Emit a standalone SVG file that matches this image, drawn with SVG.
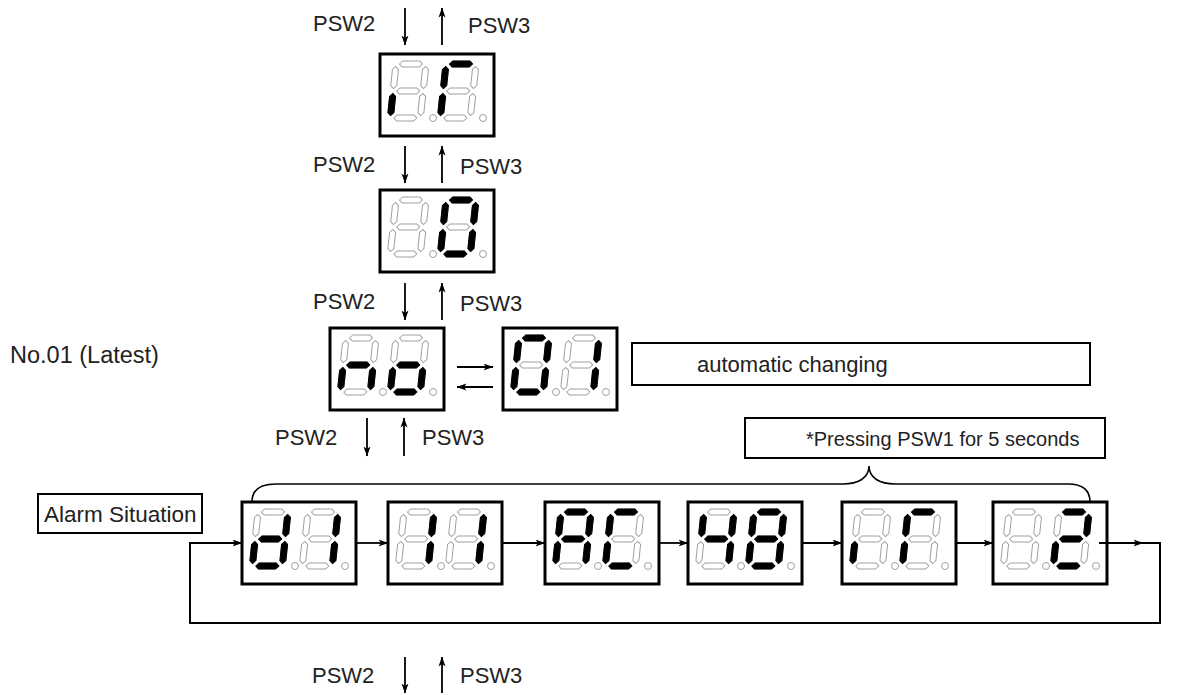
<svg xmlns="http://www.w3.org/2000/svg" xmlns:xlink="http://www.w3.org/1999/xlink" width="1177" height="695" viewBox="0 0 1177 695">
<style>
text{font-family:"Liberation Sans",Arial,sans-serif;font-size:22px;fill:#222}
.box{fill:#fff;stroke:#000;stroke-width:3}
.lbl{fill:#fff;stroke:#000;stroke-width:2}
.on{fill:#000;stroke:#000;stroke-width:1}
.dp{fill:#fff;stroke:#a0a0a0;stroke-width:1}
.ln{fill:none;stroke:#000;stroke-width:2}
.ar{fill:none;stroke:#000;stroke-width:1.8;marker-end:url(#ah)}
</style>
<defs>
<marker id="ah" viewBox="0 0 10 8" refX="9.5" refY="4" markerWidth="10" markerHeight="8" markerUnits="userSpaceOnUse" orient="auto">
<path d="M0,0.5 L10,4 L0,7.5 L2.5,4 Z" fill="#000"/>
</marker>
<path id="sa" d="M3.5,0 L6.5,-3 L23.5,-3 L26.5,0 L23.5,3 L6.5,3 Z"/>
<path id="sg" d="M3.5,27 L6.5,24 L23.5,24 L26.5,27 L23.5,30 L6.5,30 Z"/>
<path id="sd" d="M3.5,54 L6.5,51 L23.5,51 L26.5,54 L23.5,57 L6.5,57 Z"/>
<path id="sf" d="M0,2.5 L3,5.5 L3,21.5 L0,24.5 L-3,21.5 L-3,5.5 Z"/>
<path id="se" d="M0,29.5 L3,32.5 L3,48.5 L0,51.5 L-3,48.5 L-3,32.5 Z"/>
<path id="sb" d="M30,2.5 L33,5.5 L33,21.5 L30,24.5 L27,21.5 L27,5.5 Z"/>
<path id="sc" d="M30,29.5 L33,32.5 L33,48.5 L30,51.5 L27,48.5 L27,32.5 Z"/>
<g id="dim" fill="#fff" stroke="#a0a0a0" stroke-width="1">
<use href="#sa"/><use href="#sb"/><use href="#sc"/><use href="#sd"/><use href="#se"/><use href="#sf"/><use href="#sg"/>
</g>
<g id="frame">
<rect class="box" x="0" y="0" width="114" height="82"/>
<circle class="dp" cx="53" cy="64" r="3.5"/>
<circle class="dp" cx="103" cy="64" r="3.5"/>
</g>
</defs>

<g id="labels">
<text x="313" y="31">PSW2</text><text x="468" y="33">PSW3</text>
<text x="313" y="172">PSW2</text><text x="460" y="174">PSW3</text>
<text x="313" y="309">PSW2</text><text x="460" y="311">PSW3</text>
<text x="275" y="445">PSW2</text><text x="422" y="445">PSW3</text>
<text x="312" y="683">PSW2</text><text x="460" y="683">PSW3</text>
<text x="10" y="363" style="font-size:23.5px">No.01 (Latest)</text>
</g>

<g id="alarm-situation">
<rect class="lbl" x="38" y="494" width="164" height="39"/>
<text x="44" y="522" style="font-size:22.5px">Alarm Situation</text>
</g>
<g id="automatic-changing">
<rect class="lbl" x="632" y="343" width="458" height="42"/>
<text x="697" y="372">automatic changing</text>
</g>
<g id="pressing-psw1">
<rect class="lbl" x="745" y="418" width="360" height="40"/>
<text x="806" y="446" style="font-size:20px">*Pressing PSW1 for 5 seconds</text>
</g>

<g id="connectors">
<path class="ar" d="M405,8 V45"/><path class="ar" d="M442,45 V8"/>
<path class="ar" d="M405,146 V183"/><path class="ar" d="M442,183 V146"/>
<path class="ar" d="M405,283 V320"/><path class="ar" d="M442,320 V283"/>
<path class="ar" d="M367,418 V456"/><path class="ar" d="M404,456 V418"/>
<path class="ar" d="M405,657 V693"/><path class="ar" d="M442,693 V657"/>
<path class="ar" d="M457,367 H493"/><path class="ar" d="M493,387 H457"/>
<path class="ar" d="M356,543 H388"/>
<path class="ar" d="M502,543 H545"/>
<path class="ar" d="M659,543 H688"/>
<path class="ar" d="M802,543 H842"/>
<path class="ar" d="M956,543 H993"/>
<path class="ar" d="M1099,543 H1143"/>
<path class="ln" d="M1140,543 H1160 V623 H190 V543"/>
<path class="ar" d="M189,543 H242"/>
<path class="ln" style="stroke-width:1.6" d="M252,502 C252,490 260,484 276,484 L843,484 C858,484 869,478 869,466 C869,478 880,484 895,484 L1068,484 C1082,484 1090,490 1090,502"/>
</g>

<g id="disp-rF-top" transform="translate(380,54)">
<use href="#frame"/>
<g transform="translate(16,10) skewX(-6)"><use href="#dim"/><use href="#se" class="on"/></g>
<g transform="translate(66,10) skewX(-6)"><use href="#dim"/><use href="#sa" class="on"/><use href="#se" class="on"/><use href="#sf" class="on"/></g>
</g>

<g id="disp-0" transform="translate(380,190)">
<use href="#frame"/>
<g transform="translate(16,10) skewX(-6)"><use href="#dim"/></g>
<g transform="translate(66,10) skewX(-6)"><use href="#dim"/><use href="#sa" class="on"/><use href="#sb" class="on"/><use href="#sc" class="on"/><use href="#sd" class="on"/><use href="#se" class="on"/><use href="#sf" class="on"/></g>
</g>

<g id="disp-no" transform="translate(330,328)">
<use href="#frame"/>
<g transform="translate(16,10) skewX(-6)"><use href="#dim"/><use href="#sc" class="on"/><use href="#se" class="on"/><use href="#sg" class="on"/></g>
<g transform="translate(66,10) skewX(-6)"><use href="#dim"/><use href="#sc" class="on"/><use href="#sd" class="on"/><use href="#se" class="on"/><use href="#sg" class="on"/></g>
</g>

<g id="disp-01" transform="translate(503,328)">
<use href="#frame"/>
<g transform="translate(16,10) skewX(-6)"><use href="#dim"/><use href="#sa" class="on"/><use href="#sb" class="on"/><use href="#sc" class="on"/><use href="#sd" class="on"/><use href="#se" class="on"/><use href="#sf" class="on"/></g>
<g transform="translate(66,10) skewX(-6)"><use href="#dim"/><use href="#sb" class="on"/><use href="#sc" class="on"/></g>
</g>

<g id="disp-d1" transform="translate(242,502)">
<use href="#frame"/>
<g transform="translate(16,10) skewX(-6)"><use href="#dim"/><use href="#sb" class="on"/><use href="#sc" class="on"/><use href="#sd" class="on"/><use href="#se" class="on"/><use href="#sg" class="on"/></g>
<g transform="translate(66,10) skewX(-6)"><use href="#dim"/><use href="#sb" class="on"/><use href="#sc" class="on"/></g>
</g>

<g id="disp-11" transform="translate(388,502)">
<use href="#frame"/>
<g transform="translate(16,10) skewX(-6)"><use href="#dim"/><use href="#sb" class="on"/><use href="#sc" class="on"/></g>
<g transform="translate(66,10) skewX(-6)"><use href="#dim"/><use href="#sb" class="on"/><use href="#sc" class="on"/></g>
</g>

<g id="disp-AC" transform="translate(545,502)">
<use href="#frame"/>
<g transform="translate(16,10) skewX(-6)"><use href="#dim"/><use href="#sa" class="on"/><use href="#sb" class="on"/><use href="#sc" class="on"/><use href="#se" class="on"/><use href="#sf" class="on"/><use href="#sg" class="on"/></g>
<g transform="translate(66,10) skewX(-6)"><use href="#dim"/><use href="#sa" class="on"/><use href="#sd" class="on"/><use href="#se" class="on"/><use href="#sf" class="on"/></g>
</g>

<g id="disp-48" transform="translate(688,502)">
<use href="#frame"/>
<g transform="translate(16,10) skewX(-6)"><use href="#dim"/><use href="#sb" class="on"/><use href="#sc" class="on"/><use href="#sf" class="on"/><use href="#sg" class="on"/></g>
<g transform="translate(66,10) skewX(-6)"><use href="#dim"/><use href="#sa" class="on"/><use href="#sb" class="on"/><use href="#sc" class="on"/><use href="#sd" class="on"/><use href="#se" class="on"/><use href="#sf" class="on"/><use href="#sg" class="on"/></g>
</g>

<g id="disp-rF" transform="translate(842,502)">
<use href="#frame"/>
<g transform="translate(16,10) skewX(-6)"><use href="#dim"/><use href="#se" class="on"/></g>
<g transform="translate(66,10) skewX(-6)"><use href="#dim"/><use href="#sa" class="on"/><use href="#se" class="on"/><use href="#sf" class="on"/></g>
</g>

<g id="disp-2" transform="translate(993,502)">
<use href="#frame"/>
<g transform="translate(16,10) skewX(-6)"><use href="#dim"/></g>
<g transform="translate(66,10) skewX(-6)"><use href="#dim"/><use href="#sa" class="on"/><use href="#sb" class="on"/><use href="#sd" class="on"/><use href="#se" class="on"/><use href="#sg" class="on"/></g>
</g>
<path class="ln" d="M1099,543 H1107" style="stroke-width:2"/>
</svg>
